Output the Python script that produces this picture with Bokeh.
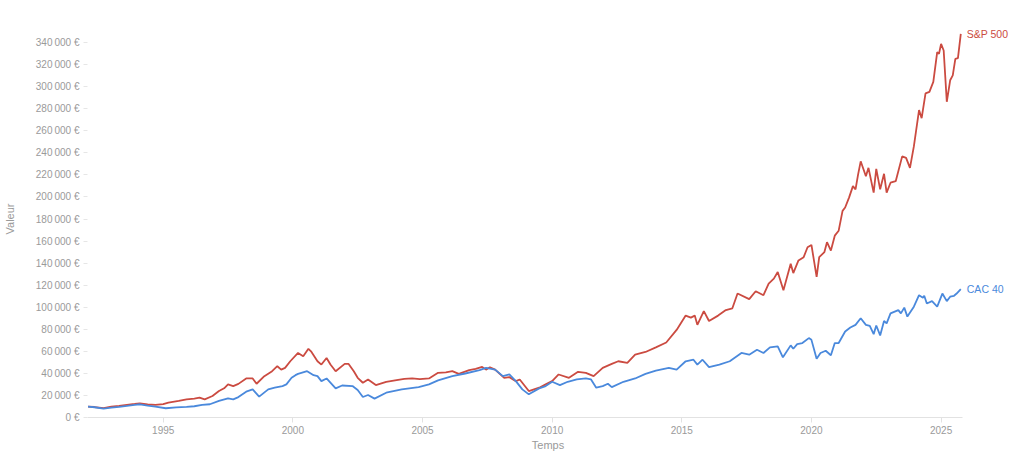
from bokeh.plotting import figure
from bokeh.models import Label, FixedTicker, CustomJSTickFormatter, Range1d
from bokeh.embed import file_html
from bokeh.resources import INLINE

# Valeur d'un placement (EUR), années décimales
sp_years = [1992.1, 1992.35, 1992.7, 1993.0, 1993.3, 1993.6, 1993.9, 1994.1, 1994.4, 1994.7,
            1995.0, 1995.2, 1995.6, 1995.9, 1996.2, 1996.4, 1996.6, 1996.9, 1997.15, 1997.35,
            1997.5, 1997.7, 1997.9, 1998.2, 1998.45, 1998.6, 1998.9, 1999.2, 1999.4, 1999.55,
            1999.7, 1999.9, 2000.2, 2000.4, 2000.6, 2000.7, 2000.95, 2001.1, 2001.3, 2001.45,
            2001.65, 2002.0, 2002.15, 2002.35, 2002.5, 2002.7, 2002.9, 2003.2, 2003.6, 2004.0,
            2004.3, 2004.6, 2004.9, 2005.25, 2005.6, 2005.9, 2006.15, 2006.4, 2006.8, 2007.05,
            2007.3, 2007.45, 2007.6, 2007.8, 2008.15, 2008.35, 2008.6, 2008.75, 2009.1, 2009.5,
            2009.75, 2010.0, 2010.25, 2010.65, 2011.0, 2011.3, 2011.6, 2011.95, 2012.3, 2012.55,
            2012.9, 2013.2, 2013.6, 2014.0, 2014.4, 2014.8, 2015.15, 2015.35, 2015.5, 2015.6,
            2015.85, 2016.05, 2016.4, 2016.7, 2016.95, 2017.15, 2017.6, 2017.85, 2018.15, 2018.35,
            2018.55, 2018.7, 2018.92, 2019.2, 2019.3, 2019.5, 2019.7, 2019.85, 2020.0, 2020.2,
            2020.3, 2020.5, 2020.6, 2020.75, 2020.9, 2021.05, 2021.2, 2021.3, 2021.45, 2021.6,
            2021.7, 2021.8, 2021.9, 2022.1, 2022.2, 2022.4, 2022.5, 2022.65, 2022.8, 2022.9,
            2023.05, 2023.25, 2023.5, 2023.65, 2023.8, 2023.95, 2024.15, 2024.25, 2024.4, 2024.55,
            2024.7, 2024.85, 2024.92, 2025.0, 2025.1, 2025.22, 2025.35, 2025.45, 2025.55, 2025.65,
            2025.76]
sp_values = [9800, 9500, 8500, 9800, 10500, 11500, 12300, 12900, 11800, 11400,
             12200, 13500, 15000, 16500, 17200, 18000, 16500, 19500, 24000, 26500,
             30000, 28500, 30500, 35400, 35400, 30600, 37500, 42000, 46500, 43400,
             45000, 51000, 58500, 55500, 62300, 60000, 51000, 48000, 54000, 48000,
             42000, 48600, 48600, 42000, 36000, 31500, 34500, 29400, 32400, 33900,
             35000, 35400, 34800, 35400, 40500, 41000, 42000, 39600, 42900, 44000,
             45900, 43400, 45500, 43400, 36000, 36600, 33000, 34500, 24000, 27000,
             30000, 33000, 39000, 36000, 41400, 40500, 37500, 45000, 48600, 51000,
             49500, 57000, 59400, 63600, 68000, 79400, 92400, 90600, 92400, 84000,
             96500, 87500, 92400, 97400, 99000, 112400, 107300, 114500, 110900, 121400,
             125900, 132000, 115400, 139400, 131000, 142400, 145400, 154400, 156500, 127500,
             145400, 150000, 159000, 151400, 164900, 169400, 187400, 190400, 199400, 209800,
             206900, 220400, 232300, 218800, 226400, 203900, 225500, 206900, 221000, 203900,
             212900, 214300, 236800, 235400, 226400, 245800, 278800, 271400, 293900, 295300,
             304300, 331300, 329800, 338800, 332800, 286300, 305800, 310300, 325300, 325900,
             347800]

cac_years = [1992.1, 1992.35, 1992.7, 1993.0, 1993.3, 1993.6, 1993.9, 1994.1, 1994.4, 1994.7,
             1995.1, 1995.5, 1995.9, 1996.2, 1996.5, 1996.8, 1997.15, 1997.5, 1997.7, 1997.9,
             1998.2, 1998.45, 1998.7, 1999.05, 1999.3, 1999.6, 1999.75, 1999.95, 2000.1, 2000.2,
             2000.55, 2000.8, 2000.95, 2001.1, 2001.3, 2001.65, 2001.9, 2002.3, 2002.5, 2002.7,
             2002.9, 2003.15, 2003.6, 2004.2, 2004.85, 2005.25, 2005.6, 2006.15, 2006.65, 2007.2,
             2007.45, 2007.8, 2008.1, 2008.35, 2008.6, 2008.85, 2009.1, 2009.5, 2009.75, 2010.0,
             2010.3, 2010.6, 2010.95, 2011.3, 2011.5, 2011.7, 2011.95, 2012.15, 2012.3, 2012.75,
             2013.2, 2013.6, 2014.0, 2014.5, 2014.8, 2015.15, 2015.45, 2015.6, 2015.8, 2016.05,
             2016.45, 2016.85, 2017.3, 2017.6, 2017.9, 2018.15, 2018.4, 2018.7, 2018.9, 2019.2,
             2019.3, 2019.45, 2019.65, 2019.9, 2020.0, 2020.2, 2020.35, 2020.55, 2020.65, 2020.75,
             2020.9, 2021.05, 2021.3, 2021.5, 2021.7, 2021.9, 2022.1, 2022.25, 2022.4, 2022.5,
             2022.65, 2022.8, 2022.9, 2023.05, 2023.35, 2023.45, 2023.58, 2023.7, 2023.95, 2024.15,
             2024.3, 2024.35, 2024.45, 2024.65, 2024.85, 2025.05, 2025.22, 2025.35, 2025.5, 2025.6,
             2025.76]
cac_values = [9800, 9300, 8000, 9000, 9600, 10500, 11500, 12000, 10800, 9900,
              8400, 9200, 9600, 10200, 11400, 12000, 15000, 17400, 16500, 18500,
              23400, 25500, 18900, 25500, 27000, 28500, 30000, 36000, 38400, 39600,
              42000, 38400, 37500, 33000, 35400, 26400, 29000, 28500, 25000, 18600,
              20400, 17100, 22500, 25500, 27600, 30000, 33600, 37500, 39900, 42900,
              45000, 43400, 37500, 39000, 33000, 25500, 21000, 26400, 28500, 32400,
              29400, 32400, 34500, 35400, 34500, 27000, 28500, 30600, 27600, 32400,
              35400, 39600, 42500, 45000, 43400, 51000, 52400, 48000, 52400, 45600,
              48000, 51000, 58500, 57000, 61400, 58500, 63600, 64500, 54600, 65400,
              62300, 66600, 67500, 72000, 70400, 53300, 58500, 60500, 58500, 56400,
              67500, 67500, 78000, 81600, 84000, 90000, 84000, 83000, 75600, 83400,
              74400, 87500, 85400, 94400, 97400, 94400, 99600, 91500, 100500, 110900,
              108600, 110400, 103400, 105500, 100500, 112400, 105500, 109500, 110400, 112400,
              116300]

year_ticks = [1995, 2000, 2005, 2010, 2015, 2020, 2025]
value_ticks = list(range(0, 340001, 20000))

RED = "#cb4b41"
BLUE = "#4a89dc"
GREY = "#9a9a9a"
FONT = "Liberation Sans"

# the frame runs to the right edge so the series names fit inside it
p = figure(width=1008, height=453,
           x_range=Range1d(1992.08, 2027.6), y_range=Range1d(0, 360000),
           output_backend="svg", toolbar_location=None,
           min_border_left=87, min_border_right=0, min_border_top=20, min_border_bottom=34,
           background_fill_color="white", border_fill_color="white")
p.outline_line_color = None
p.xgrid.visible = False
p.ygrid.visible = False

p.line(sp_years, sp_values, line_color=RED, line_width=1.8)
p.line(cac_years, cac_values, line_color=BLUE, line_width=1.8)

# x axis
p.xaxis.bounds = (1992.08, 2025.83)
p.xaxis.ticker = FixedTicker(ticks=year_ticks)
p.xaxis.formatter = CustomJSTickFormatter(code="return tick.toFixed(0);")
p.xaxis.axis_label = "Temps"
p.xaxis.axis_line_color = "#e2e2e2"
p.xaxis.major_tick_line_color = "#e2e2e2"
p.xaxis.major_tick_out = 5
p.xaxis.major_tick_in = 0
p.xaxis.minor_tick_line_color = None
p.xaxis.major_label_standoff = 3
p.xaxis.axis_label_standoff = 2

# y axis
p.yaxis.ticker = FixedTicker(ticks=value_ticks)
p.yaxis.formatter = CustomJSTickFormatter(code=r"""
    return tick.toFixed(0).replace(/\B(?=(\d{3})+(?!\d))/g, "\u2009") + "\u00a0\u20ac";
""")
p.yaxis.axis_label = "Valeur"
p.yaxis.axis_line_color = None
p.yaxis.major_tick_line_color = "#e6e6e6"
p.yaxis.major_tick_out = 4
p.yaxis.major_tick_in = 0
p.yaxis.minor_tick_line_color = None
p.yaxis.major_label_standoff = 4
p.yaxis.axis_label_standoff = 17

for ax in (p.xaxis, p.yaxis):
    ax.major_label_text_color = GREY
    ax.major_label_text_font = FONT
    ax.major_label_text_font_size = "10px"
    ax.major_label_text_line_height = 1.0
    ax.axis_label_text_color = GREY
    ax.axis_label_text_font = FONT
    ax.axis_label_text_font_size = "11px"
    ax.axis_label_text_font_style = "normal"
    ax.axis_label_text_line_height = 1.0

# series names at the end of each line
p.add_layout(Label(x=sp_years[-1], y=sp_values[-1], text="S&P 500", x_offset=6,
                   text_color=RED, text_font=FONT, text_font_size="10.5px",
                   text_baseline="middle"))
p.add_layout(Label(x=cac_years[-1], y=cac_values[-1], text="CAC 40", x_offset=6,
                   text_color=BLUE, text_font=FONT, text_font_size="10.5px",
                   text_baseline="middle"))

open("out.html", "w").write(file_html(p, INLINE))
